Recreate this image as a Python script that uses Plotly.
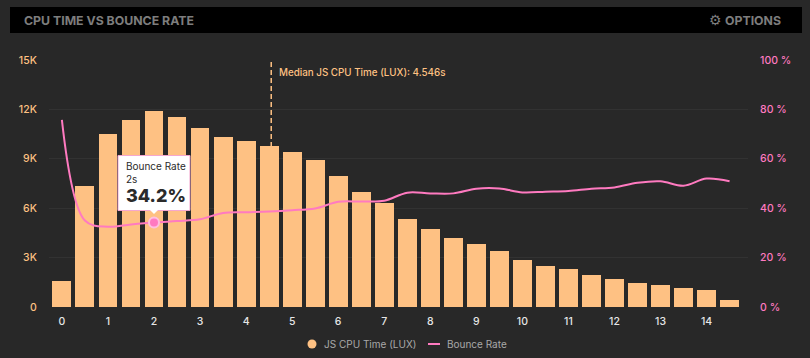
import plotly.graph_objects as go

TITLE = "CPU TIME VS BOUNCE RATE"
OPTIONS = "OPTIONS"
BAR_NAME = "JS CPU Time (LUX)"
LINE_NAME = "Bounce Rate"
seconds = [i * 0.5 for i in range(30)]
cpu_time = [1580, 7350, 10520, 11370, 11900, 11530, 10850, 10300, 10100, 9800,
            9430, 8920, 7970, 6980, 6290, 5340, 4750, 4190, 3820, 3420,
            2870, 2470, 2280, 1920, 1700, 1460, 1310, 1150, 1010, 420]
bounce = [75.8, 35.0, 32.5, 33.4, 34.2, 34.8, 35.5, 38.1, 38.4, 38.7,
          39.2, 39.9, 42.6, 42.7, 43.0, 46.3, 46.0, 46.0, 47.9, 48.0,
          46.4, 46.7, 47.0, 47.9, 48.4, 50.3, 50.9, 49.1, 52.0, 50.9]
median_cpu = 4.546
x_ticks = list(range(15))
left_ticks = [0, 3000, 6000, 9000, 12000, 15000]
left_labels = ["0", "3K", "6K", "9K", "12K", "15K"]
right_ticks = [0, 20, 40, 60, 80, 100]
right_labels = ["0 %", "20 %", "40 %", "60 %", "80 %", "100 %"]
hover_index = 4

BG = "#282828"
ORANGE = "#fec183"
PINK = "#ff7ac0"
GRID = "#323232"
FONT = "Inter, 'Noto Sans', sans-serif"
W, H, ML, MR, MT, MB = 810, 358, 49, 62, 60, 51
PW, PH = W - ML - MR, H - MT - MB


def px(v):
    return (v - ML) / PW


def py(v):
    return 1 - (v - MT) / PH


hx, hy = seconds[hover_index], bounce[hover_index]


def note(text, **kw):
    font = kw.pop("font")
    return dict(text=text, showarrow=False, font=font, **kw)


def hover_note(text, dy, size, weight=400):
    return note(text, xref="x", yref="y2", x=hx, y=hy, align="left",
                xshift=-30, yshift=dy, xanchor="left", yanchor="middle",
                font=dict(color="#2b2b2b", size=size, weight=weight))


fig = go.Figure()
fig.add_bar(x=seconds, y=cpu_time, width=0.41, marker=dict(color=ORANGE, line_width=0),
            showlegend=False, yaxis="y", name=BAR_NAME)
fig.add_scatter(x=seconds, y=bounce, mode="lines", name=LINE_NAME, yaxis="y2", showlegend=False,
                line=dict(color=PINK, width=2, shape="spline", smoothing=1))
fig.add_scatter(x=[hx], y=[hy], mode="markers", yaxis="y2", showlegend=False,
                marker=dict(color=PINK, size=10, line=dict(color="#ffc0e0", width=2)))

fig.update_layout(
    width=W, height=H,
    autosize=False,
    margin=dict(l=ML, r=MR, t=MT, b=MB),
    paper_bgcolor=BG, plot_bgcolor=BG,
    font=dict(family=FONT, size=11),
    bargap=0,
    showlegend=False,
    xaxis=dict(range=[-0.28, 14.9], tickvals=x_ticks, ticktext=[str(v) for v in x_ticks],
               tickfont=dict(color="#e6e6e6", size=10.5, weight=500), showgrid=False, zeroline=False,
               ticks="outside", ticklen=4, tickcolor="rgba(0,0,0,0)", showline=False),
    yaxis=dict(range=[0, 15000], tickvals=left_ticks, ticktext=left_labels,
               tickfont=dict(color=ORANGE, size=10.5, weight=500), gridcolor=GRID, gridwidth=1, zeroline=False,
               ticks="outside", ticklen=9, tickcolor="rgba(0,0,0,0)"),
    yaxis2=dict(range=[0, 100], overlaying="y", side="right", tickvals=right_ticks,
                ticktext=right_labels, tickfont=dict(color=PINK, size=10.5, weight=500), showgrid=False,
                zeroline=False, ticks="outside", ticklen=9, tickcolor="rgba(0,0,0,0)"),
    shapes=[
        dict(type="rect", xref="paper", yref="paper", x0=px(10), x1=px(802),
             y0=py(33), y1=py(7), fillcolor="#000000", line_width=0, layer="below"),
        dict(type="line", xref="x", yref="y", x0=median_cpu, x1=median_cpu, y0=0, y1=15000,
             line=dict(color=ORANGE, width=1.5, dash="5px,3px"), layer="below"),
        dict(type="rect", xref="x", yref="y2", xsizemode="pixel", ysizemode="pixel",
             xanchor=hx, yanchor=hy, x0=-36, x1=36, y0=12, y1=67,
             fillcolor="#ffffff", line=dict(color="#f5a6cf", width=1), layer="above"),
        dict(type="path", xref="x", yref="y2", xsizemode="pixel", ysizemode="pixel",
             xanchor=hx, yanchor=hy, path="M -4 12.5 L 0 8.5 L 4 12.5 Z",
             fillcolor="#ffffff", line_width=0, layer="above"),
        dict(type="circle", xref="paper", yref="paper", x0=px(307.5), x1=px(316.5),
             y0=py(348.5), y1=py(339.5), fillcolor=ORANGE, line_width=0),
        dict(type="line", xref="paper", yref="paper", x0=px(428), x1=px(440),
             y0=py(344), y1=py(344), line=dict(color=PINK, width=2)),
    ],
    annotations=[
        note(TITLE, xref="paper", yref="paper", x=px(22), y=py(20),
             xanchor="left", yanchor="middle", font=dict(color="#7d7d7d", size=12.3, weight=700)),
        note(OPTIONS, xref="paper", yref="paper", x=px(783), y=py(20),
             xanchor="right", yanchor="middle", font=dict(color="#7d7d7d", size=12.3, weight=700)),
        note("⚙", xref="paper", yref="paper", x=px(715), y=py(20),
             xanchor="center", yanchor="middle",
             font=dict(color="#7d7d7d", size=14, family="DejaVu Sans")),
        note("Median JS CPU Time (LUX): 4.546s", xref="x", yref="paper", x=median_cpu, xshift=6,
             y=py(73), xanchor="left", yanchor="middle", font=dict(color=ORANGE, size=9.8, weight=500)),
        hover_note(LINE_NAME + "<br>2s", 50, 10),
        hover_note("34.2%", 27.5, 18, weight=800),
        note(BAR_NAME, xref="paper", yref="paper", x=px(322), y=py(344), xanchor="left",
             yanchor="middle", font=dict(color="#a8a8a8", size=10)),
        note(LINE_NAME, xref="paper", yref="paper", x=px(445), y=py(344), xanchor="left",
             yanchor="middle", font=dict(color="#a8a8a8", size=10)),
    ],
)
fig.write_html("out.html", config={"displayModeBar": False},
               post_script="document.body.style.margin='0';document.body.style.background='" + BG + "';")
